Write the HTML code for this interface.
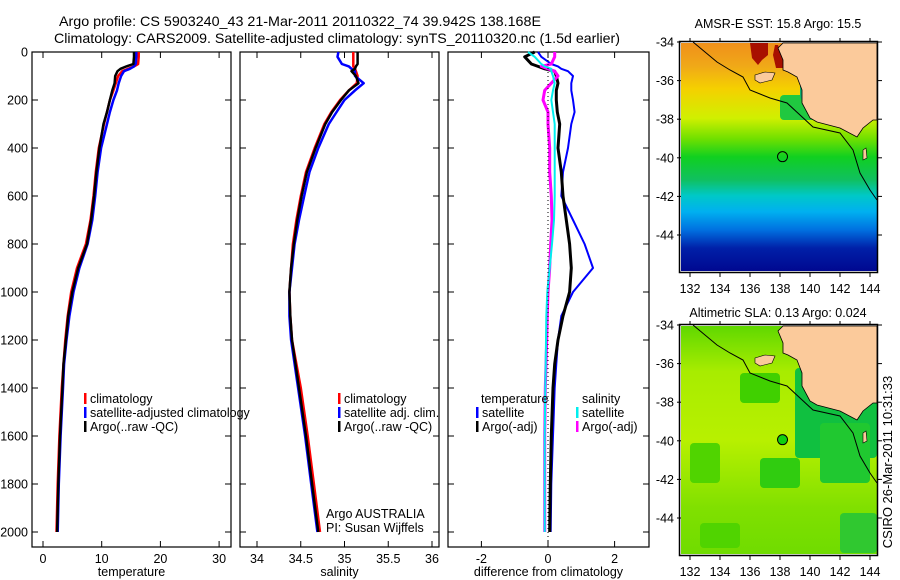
<!DOCTYPE html>
<html><head><meta charset="utf-8"><style>
html,body{margin:0;padding:0;background:#fff;}
svg{display:block;font-family:"Liberation Sans",sans-serif;}
</style></head><body>
<svg id="fig" width="900" height="580" viewBox="0 0 900 580" xmlns="http://www.w3.org/2000/svg">
<rect width="900" height="580" fill="#fff"/>
<text x="59" y="26" font-size="14" textLength="482" lengthAdjust="spacingAndGlyphs">Argo profile: CS 5903240_43 21-Mar-2011 20110322_74 39.942S 138.168E</text>
<text x="54" y="43" font-size="14" textLength="566" lengthAdjust="spacingAndGlyphs">Climatology: CARS2009. Satellite-adjusted climatology: synTS_20110320.nc (1.5d earlier)</text>
<g id="plots"></g>
<g id="maps"></g>
<text transform="translate(892,462) rotate(-90)" font-size="13" text-anchor="middle">CSIRO 26-Mar-2011 10:31:33</text>
</svg>
<script>
const depths = [0,20,50,60,70,80,100,130,160,200,250,300,400,500,600,700,800,900,1000,1100,1200,1300,1400,1600,1800,2000];
const tempClim = [16.3,16.3,16.2,15.5,14.5,13.5,12.8,12.4,12.0,11.4,10.9,10.4,9.5,9.0,8.6,8.1,7.3,5.8,4.8,4.2,3.8,3.5,3.2,2.8,2.5,2.3];
const tempSat = [15.9,15.9,15.8,15.5,14.8,13.8,13.3,12.9,12.6,12.0,11.4,10.9,9.9,9.3,8.9,8.4,7.6,6.2,5.2,4.5,4.0,3.6,3.4,3.0,2.7,2.5];
const tempArgo = [15.5,15.5,15.4,14.2,13.2,12.7,12.3,12.2,11.8,11.4,10.9,10.3,9.6,9.1,8.7,8.2,7.5,6.0,5.0,4.3,3.9,3.5,3.3,2.9,2.6,2.4];
const salClim = [35.1,35.1,35.1,35.1,35.12,35.13,35.15,35.14,35.05,34.95,34.85,34.77,34.66,34.56,34.50,34.45,34.41,34.39,34.37,34.38,34.40,34.45,34.50,34.58,34.65,34.72];
const salSat = [34.93,34.92,34.97,35.05,35.08,35.12,35.12,35.22,35.12,35.0,34.91,34.82,34.7,34.6,34.54,34.48,34.43,34.40,34.37,34.37,34.39,34.43,34.47,34.55,34.62,34.69];
const salArgo = [35.15,35.15,35.15,35.13,35.12,35.08,35.13,35.16,35.05,34.96,34.86,34.78,34.67,34.57,34.51,34.46,34.42,34.39,34.37,34.38,34.40,34.44,34.48,34.56,34.63,34.70];
const diffTempSat = [-0.3,-0.2,0.1,0.3,0.4,0.6,0.75,0.7,0.7,0.75,0.8,0.7,0.6,0.45,0.4,0.75,1.1,1.35,0.75,0.4,0.3,0.25,0.2,0.15,0.1,0.08];
const diffTempArgo = [-0.4,-0.7,-0.5,-0.3,-0.1,0.2,0.25,0.3,0.25,0.25,0.28,0.35,0.3,0.4,0.45,0.55,0.65,0.7,0.65,0.45,0.3,0.2,0.15,0.1,0.07,0.05];
const diffSalSat = [-0.6,-0.4,-0.2,-0.1,0.1,0.1,0.15,0.2,0.15,0.1,0.15,0.2,0.2,0.2,0.2,0.18,0.12,0.05,-0.02,-0.05,-0.06,-0.07,-0.08,-0.1,-0.1,-0.1];
const diffSalArgo = [0.2,0.2,0.1,-0.2,0.0,0.2,0.3,0.1,-0.1,-0.15,0.0,0.0,0.05,0.05,0.1,0.12,0.08,0.05,0.0,-0.02,-0.04,-0.06,-0.08,-0.1,-0.1,-0.1];
const depthTicks = [0,200,400,600,800,1000,1200,1400,1600,1800,2000];
const tempTicks = [0,10,20,30];
const salTicks = [34,34.5,35,35.5,36];
const diffTicks = [-2,0,2];
const latTicks = [-34,-36,-38,-40,-42,-44];
const lonTicks = [132,134,136,138,140,142,144];
const argoLon = 138.168, argoLat = -39.942;

const NS='http://www.w3.org/2000/svg';
function mk(tag, attrs, parent){const e=document.createElementNS(NS,tag);for(const k in attrs)e.setAttribute(k,attrs[k]);if(parent)parent.appendChild(e);return e;}
const yD = d => 52 + d*0.24;
const plots=document.getElementById('plots');

function panel(name, x0, x1, xScale, ticks, label, series, showY){
  const g=mk('g',{},plots);
  
  
  const fr=mk('rect',{x:x0,y:52,width:x1-x0,height:495,fill:'none',stroke:'#000','stroke-width':1.2},g);
  
  
  ticks.forEach(t=>{const x=xScale(t);
    mk('line',{x1:x,x2:x,y1:547,y2:541,stroke:'#000'},g);
    mk('line',{x1:x,x2:x,y1:52,y2:58,stroke:'#000'},g);
    const tx=mk('text',{x:x,y:563,'font-size':12.5,'text-anchor':'middle'},g);tx.textContent=t;
    
    
  });
  depthTicks.forEach(d=>{const y=yD(d);
    mk('line',{x1:x0,x2:x0+6,y1:y,y2:y,stroke:'#000'},g);
    mk('line',{x1:x1,x2:x1-6,y1:y,y2:y,stroke:'#000'},g);
    if(showY){const t=mk('text',{x:x0-4,y:y+4.5,'font-size':12.5,'text-anchor':'end'},g);t.textContent=d;
      
      }
  });
  const xl=mk('text',{x:(x0+x1)/2,y:576,'font-size':12.5,'text-anchor':'middle'},g);xl.textContent=label;
  
  
  series.forEach(s=>{
    const pts=s.vals.map((v,i)=>xScale(v).toFixed(1)+','+yD(depths[i]).toFixed(1)).join(' ');
    const p=mk('polyline',{points:pts,fill:'none',stroke:s.color,'stroke-width':s.w||2.5,'stroke-linejoin':'round'},g);
    
    
  });
  return g;
}
const xT=t=>43+t*5.87, xS=s=>257+(s-34)*87.5, xDf=v=>548+v*33.3;
panel('temperature-panel',32,231,xT,tempTicks,'temperature',[
 {vals:tempClim,color:'#f00',name:'temp-climatology-line'},
 {vals:tempSat,color:'#00f',name:'temp-satellite-line'},
 {vals:tempArgo,color:'#000',name:'temp-argo-line'}],true);
panel('salinity-panel',240,439,xS,salTicks,'salinity',[
 {vals:salClim,color:'#f00',name:'sal-climatology-line'},
 {vals:salSat,color:'#00f',name:'sal-satellite-line'},
 {vals:salArgo,color:'#000',name:'sal-argo-line'}],false);
const dg=panel('difference-panel',448,649,xDf,diffTicks,'difference from climatology',[
 {vals:diffTempSat,color:'#00f',name:'diff-temp-satellite-line',w:2},
 {vals:diffTempArgo,color:'#000',name:'diff-temp-argo-line',w:3},
 {vals:diffSalArgo,color:'#f0f',name:'diff-sal-argo-line',w:3},
 {vals:diffSalSat,color:'#0ee',name:'diff-sal-satellite-line',w:2}],false);
const zl=mk('line',{x1:xDf(0),x2:xDf(0),y1:52,y2:547,stroke:'#000','stroke-dasharray':'1 3'},dg);



function legend(items){items.forEach(it=>{
  if(it.c){const m=mk('rect',{x:it.x-6,y:it.y-10,width:2.5,height:11,fill:it.c},plots);
    
    }
  const t=mk('text',{x:it.x,y:it.y,'font-size':12.5},plots);t.textContent=it.t;
  
  
});}
legend([{x:90,y:403,t:'climatology',c:'#f00'},{x:90,y:417,t:'satellite-adjusted climatology',c:'#00f'},{x:90,y:431,t:'Argo(..raw -QC)',c:'#000'},
 {x:344,y:403,t:'climatology',c:'#f00'},{x:344,y:417,t:'satellite adj. clim.',c:'#00f'},{x:344,y:431,t:'Argo(..raw -QC)',c:'#000'},
 {x:481,y:403,t:'temperature'},{x:482,y:417,t:'satellite',c:'#00f'},{x:482,y:431,t:'Argo(-adj)',c:'#000'},
 {x:582,y:403,t:'salinity'},{x:582,y:417,t:'satellite',c:'#0ee'},{x:582,y:431,t:'Argo(-adj)',c:'#f0f'},
 {x:326,y:518,t:'Argo AUSTRALIA'},{x:326,y:532,t:'PI: Susan Wijffels'}]);

// maps
const maps=document.getElementById('maps');
const landPts="783,43 877,43 877,120 873,120 863,128 857,137 840,128 817,122 810,118 802,103 802,90 797,77 788,72 783,70 783,60 778,48";
const shelf="693,42 717,62 730,70 743,77 750,90 770,98 787,103 813,127 840,133 853,150 860,173 870,190 877,200";
function drawMap(name, top, title, titleOff, stops, blobs, extra){
  const dy=top-42;
  const g=mk('g',{},maps);
  
  
  const lonX=l=>690+(l-132)*15, latY=l=>top+(-34-l)*19.3;
  const gid=name+'-grad';
  const defs=mk('defs',{},g);
  const lg=mk('linearGradient',{id:gid,x1:0,y1:0,x2:0,y2:1},defs);
  stops.forEach(s=>mk('stop',{offset:s[0],'stop-color':s[1]},lg));
  const bg=mk('rect',{x:681,y:top+1,width:196,height:228,fill:'url(#'+gid+')'},g);
  
  
  blobs.forEach(b=>mk('rect',{x:b[0],y:b[1]+dy,width:b[2],height:b[3],fill:b[4],rx:4},g));
  const lt=mk('g',{transform:'translate(0,'+dy+')'},g);
  extra.forEach(e=>mk('polygon',{points:e[0],fill:e[1]},lt));
  const land=mk('polygon',{points:landPts,fill:'#fbca9b',stroke:'#000','stroke-width':0.8},lt);
  
  
  mk('polygon',{points:"755,75 765,72 775,73 772,80 760,83 755,80",fill:'#fbca9b',stroke:'#000','stroke-width':0.6},lt);
  mk('polygon',{points:"863,150 866,148 867,158 863,160",fill:'#fbca9b',stroke:'#000','stroke-width':0.6},lt);
  mk('polyline',{points:shelf,fill:'none',stroke:'#000','stroke-width':1},lt);
  const fr=mk('rect',{x:679.5,y:top-0.5,width:198,height:231,fill:'none',stroke:'#000','stroke-width':1.5},g);
  
  
  latTicks.forEach(l=>{const y=latY(l);
    mk('line',{x1:677,x2:681,y1:y,y2:y,stroke:'#000'},g);mk('line',{x1:877,x2:882,y1:y,y2:y,stroke:'#000'},g);
    const t=mk('text',{x:674,y:y+4.5,'font-size':12.5,'text-anchor':'end'},g);t.textContent=l;
    
    });
  lonTicks.forEach(l=>{const x=lonX(l);
    mk('line',{x1:x,x2:x,y1:top+231,y2:top+235,stroke:'#000'},g);mk('line',{x1:x,x2:x,y1:top-4,y2:top,stroke:'#000'},g);
    const t=mk('text',{x:x,y:top+251,'font-size':12.5,'text-anchor':'middle'},g);t.textContent=l;
    
    });
  const c=mk('circle',{cx:lonX(argoLon),cy:latY(argoLat),r:5,fill:extra.length?'none':'#10d010',stroke:'#000','stroke-width':1},g);
  
  
  const tt=mk('text',{x:778,y:top-titleOff,'font-size':12.5,'text-anchor':'middle'},g);tt.textContent=title;
  
  
}
drawMap('sst-map',42,'AMSR-E SST: 15.8 Argo: 15.5',14,
 [[0,'#f0901a'],[0.1,'#f0a818'],[0.2,'#f5d000'],[0.33,'#d0f000'],[0.42,'#70e000'],[0.5,'#10d020'],[0.6,'#10c060'],[0.67,'#00c8c8'],[0.74,'#00b0f0'],[0.82,'#0070e0'],[0.9,'#0020a8'],[1,'#000890']],
 [[780,95,60,25,'#20c840'],[800,80,10,20,'#10b070']],
 [["750,43 768,43 768,55 762,60 758,65 752,58",'#a81000'],["775,45 778,45 783,60 783,68 776,68 773,55",'#a81000']]);
drawMap('sla-map',325,'Altimetric SLA: 0.13 Argo: 0.024',8,
 [[0,'#60d800'],[0.2,'#a8ec00'],[0.5,'#b8f000'],[0.8,'#80e000'],[1,'#70dc00']],
 [[795,85,82,90,'#10c040'],[740,90,40,30,'#40d000'],[760,175,40,30,'#30cc10'],[820,140,50,60,'#20c830'],[690,160,30,40,'#50d400'],[840,230,37,40,'#30c830'],[700,240,40,25,'#50d400']],
 []);
</script>
</body></html>
